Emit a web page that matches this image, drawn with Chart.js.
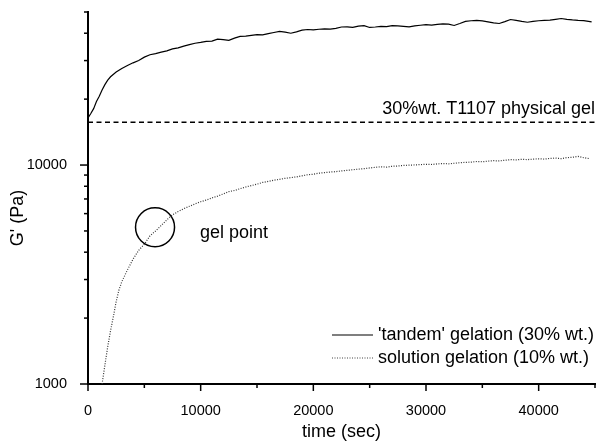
<!DOCTYPE html>
<html>
<head>
<meta charset="utf-8">
<script src="https://cdn.jsdelivr.net/npm/chart.js@4.4.1/dist/chart.umd.min.js"></script>
<style>
  html, body { margin: 0; padding: 0; background: #fff; }
  #wrap { width: 600px; height: 441px; }
</style>
</head>
<body>
<div id="wrap"><canvas id="c" width="600" height="441"></canvas></div>
<script>
// ---- data ----
const tandemTime = [0,250,500,750,1000,1250,1500,1750,2000,2500,3000,3500,4000,4500,5000,5500,6000,6500,7000,7500,8000,8500,9000,9500,10000,10500,11000,11500,12000,12500,13000,13500,14000,14500,15000,15500,16000,16500,17000,17500,18000,18500,19000,19500,20000,20500,21000,21500,22000,22500,23000,23500,24000,24500,25000,25500,26000,26500,27000,27500,28000,28500,29000,29500,30000,30500,31000,31500,32000,32500,33000,33500,34000,34500,35000,35500,36000,36500,37000,37500,38000,38500,39000,39500,40000,40500,41000,41500,42000,42500,43000,43500,44000,44700];
const tandemG = [16400,17200,18100,19500,20600,22000,23300,24400,25300,26600,27600,28500,29300,30000,31100,31900,32300,32800,33200,33900,34300,34900,35500,36000,36300,36700,36800,37600,37400,37100,38000,38700,38800,39100,39400,39300,39800,40300,40800,40500,40000,40600,41300,41600,41400,41700,41900,41800,42100,42700,42800,42500,43100,43300,42500,42700,43000,42900,43300,43200,43000,42800,43200,43500,43800,43600,43900,44100,44000,43400,44300,45300,45600,45800,45500,45100,44600,44300,45200,46200,45800,45300,44900,45300,45600,45800,45900,46300,46700,46300,46000,45800,45700,45100];

const solutionTime = [1250,1500,1750,2000,2250,2500,2750,3000,3500,4000,4500,5000,5500,6000,6500,7000,7500,8000,8500,9000,9500,10000,10500,11000,11500,12000,12500,13000,13500,14000,14500,15000,15500,16000,16500,17000,17500,18000,18500,19000,19500,20000,20500,21000,21500,22000,22500,23000,23500,24000,24500,25000,25500,26000,26500,27000,27500,28000,28500,29000,29500,30000,30500,31000,31500,32000,32500,33000,33500,34000,34500,35000,35500,36000,36500,37000,37500,38000,38500,39000,39500,40000,40500,41000,41500,42000,42500,43000,43500,44000,44500];
const solutionG = [1000,1220,1480,1750,2030,2380,2690,2930,3320,3720,4080,4350,4750,5000,5300,5620,5930,6130,6320,6480,6650,6800,6920,7080,7210,7380,7560,7650,7800,7940,8060,8180,8330,8420,8530,8600,8700,8760,8830,8930,9030,9080,9180,9240,9290,9330,9400,9460,9520,9580,9630,9700,9760,9820,9780,9870,9900,9960,9990,10010,10050,10080,10060,10120,10160,10130,10190,10250,10280,10310,10380,10350,10420,10470,10440,10520,10580,10560,10620,10590,10640,10680,10650,10720,10760,10700,10810,10850,10950,10800,10700];

const physicalGelLevel = 15700;
const physicalGelRange = [0, 45000];
const gelPoint = { time: 5950, G: 5200 };

const seriesLabels = ["'tandem' gelation (30% wt.)", "solution gelation (10% wt.)"];
const physicalGelLabel = "30%wt. T1107 physical gel";
const gelPointLabel = "gel point";
const xTitle = "time (sec)";
const yTitle = "G' (Pa)";

const xMajorTicks = [0, 10000, 20000, 30000, 40000];
const xMinorTicks = [5000, 15000, 25000, 35000, 45000];
const yMajorTicks = [1000, 10000];
const yMinorTicks = [2000,3000,4000,5000,6000,7000,8000,9000,20000,30000,40000,50000];
const xRange = [0, 45000];
const yRange = [1000, 50000];

// ---- chart ----
const FONT = "'Liberation Sans', Arial, Helvetica, sans-serif";

const toPts = (xs, ys) => xs.map((x, i) => ({ x: x, y: ys[i] }));

const decorPlugin = {
  id: 'decor',
  afterDraw(chart) {
    const ctx = chart.ctx;
    const xs = chart.scales.x, ys = chart.scales.y;
    const ca = chart.chartArea;
    ctx.save();
    ctx.strokeStyle = '#000';
    ctx.fillStyle = '#000';
    ctx.lineWidth = 1.5;
    ctx.setLineDash([]);
    // tick marks
    const tickY = (v, len) => { const p = ys.getPixelForValue(v); ctx.beginPath(); ctx.moveTo(ca.left, p); ctx.lineTo(ca.left - len, p); ctx.stroke(); };
    const tickX = (v, len) => { const p = xs.getPixelForValue(v); ctx.beginPath(); ctx.moveTo(p, ca.bottom); ctx.lineTo(p, ca.bottom + len); ctx.stroke(); };
    yMajorTicks.forEach(v => tickY(v, 8));
    yMinorTicks.forEach(v => tickY(v, 4));
    xMajorTicks.forEach(v => tickX(v, 7));
    xMinorTicks.forEach(v => tickX(v, 4));

    // annotation texts
    ctx.font = '18px ' + FONT;
    ctx.textBaseline = 'middle';
    ctx.textAlign = 'right';
    ctx.fillText(physicalGelLabel, ca.right, ys.getPixelForValue(physicalGelLevel) - 13);
    ctx.textAlign = 'left';
    ctx.fillText(gelPointLabel, xs.getPixelForValue(gelPoint.time) + 45, ys.getPixelForValue(gelPoint.G) + 6);

    // axis titles
    ctx.textAlign = 'center';
    ctx.fillText(xTitle, (ca.left + ca.right) / 2, 432);
    ctx.save();
    ctx.translate(18, 218);
    ctx.rotate(-Math.PI / 2);
    ctx.fillText(yTitle, 0, 0);
    ctx.restore();

    // legend
    const lx0 = 332, lx1 = 373, tx = 378;
    const ly = [335, 358];
    ctx.lineWidth = 1.2;
    ctx.beginPath(); ctx.moveTo(lx0, ly[0]); ctx.lineTo(lx1, ly[0]); ctx.stroke();
    ctx.setLineDash([1, 1.5]);
    ctx.strokeStyle = '#444';
    ctx.beginPath(); ctx.moveTo(lx0, ly[1]); ctx.lineTo(lx1, ly[1]); ctx.stroke();
    ctx.setLineDash([]);
    ctx.textAlign = 'left';
    ctx.fillText(seriesLabels[0], tx, ly[0]);
    ctx.fillText(seriesLabels[1], tx, ly[1]);
    ctx.restore();
  }
};

new Chart(document.getElementById('c'), {
  type: 'scatter',
  data: {
    datasets: [
      {
        label: seriesLabels[0],
        data: toPts(tandemTime, tandemG),
        showLine: true, borderColor: '#000', borderWidth: 1.2, pointRadius: 0, tension: 0
      },
      {
        label: seriesLabels[1],
        data: toPts(solutionTime, solutionG),
        showLine: true, borderColor: '#333', borderWidth: 1.2, borderDash: [1, 1.5], pointRadius: 0, tension: 0
      },
      {
        label: physicalGelLabel,
        data: physicalGelRange.map(t => ({ x: t, y: physicalGelLevel })),
        showLine: true, borderColor: '#000', borderWidth: 1.5, borderDash: [5, 3.5], pointRadius: 0
      },
      {
        label: gelPointLabel,
        data: [{ x: gelPoint.time, y: gelPoint.G }],
        showLine: false, pointStyle: 'circle', pointRadius: 19.5, pointBorderWidth: 1.5,
        pointBorderColor: '#000', pointBackgroundColor: 'rgba(0,0,0,0)'
      }
    ]
  },
  options: {
    responsive: false,
    devicePixelRatio: 1,
    animation: false,
    clip: false,
    layout: { autoPadding: false, padding: { left: 0, right: 5, top: 12, bottom: 0 } },
    plugins: { legend: { display: false }, tooltip: { enabled: false } },
    scales: {
      x: {
        type: 'linear', min: xRange[0], max: xRange[1],
        afterBuildTicks: s => { s.ticks = xMajorTicks.map(v => ({ value: v })); },
        afterFit: s => { s.height = 57; s.paddingLeft = 0; s.paddingRight = 0; },
        grid: { display: false },
        border: { display: true, color: '#000', width: 2 },
        ticks: { color: '#000', font: { family: FONT, size: 14.5 }, padding: 10, maxRotation: 0, autoSkip: false,
                 callback: v => String(v) }
      },
      y: {
        type: 'logarithmic', min: yRange[0], max: yRange[1],
        afterBuildTicks: s => { s.ticks = yMajorTicks.map(v => ({ value: v })); },
        afterFit: s => { s.width = 88; s.paddingTop = 0; s.paddingBottom = 0; },
        grid: { display: false },
        border: { display: true, color: '#000', width: 2 },
        ticks: { color: '#000', font: { family: FONT, size: 14.5 }, padding: 13, autoSkip: false,
                 callback: v => String(v) }
      }
    }
  },
  plugins: [decorPlugin]
});
</script>
</body>
</html>
